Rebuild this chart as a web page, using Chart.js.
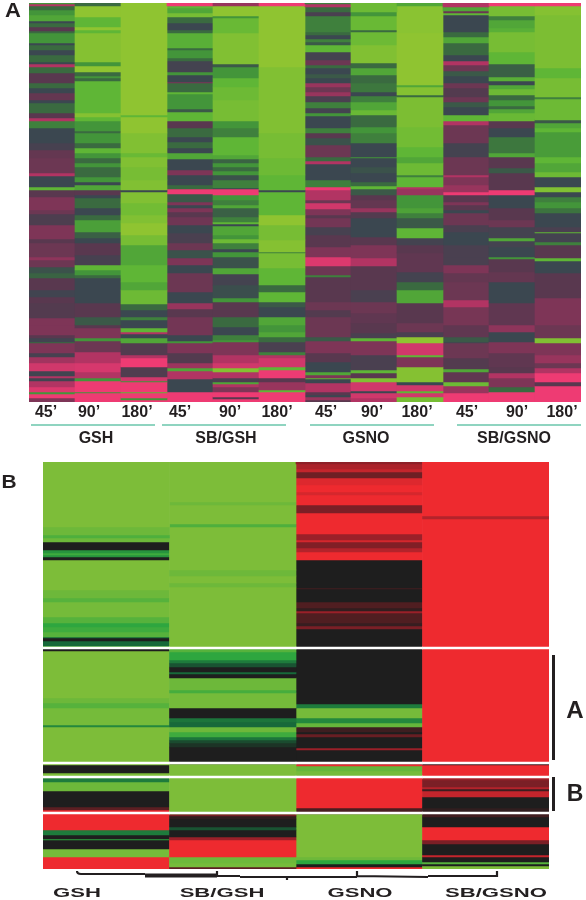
<!DOCTYPE html>
<html>
<head>
<meta charset="utf-8">
<title>GSH / GSNO expression heatmaps</title>
<script src="https://cdn.jsdelivr.net/npm/chart.js@4/dist/chart.umd.min.js"></script>
<style>
  html, body { margin: 0; padding: 0; background: #fff; }
  #page { position: relative; width: 586px; height: 900px; overflow: hidden; font-family: "Liberation Sans", Arial, sans-serif; color: #231f20; }
  canvas { position: absolute; display: block; }
  #panelA { filter: blur(0.6px); }
  #panelB { filter: blur(0.4px); }
  .txt { position: absolute; font-weight: bold; white-space: nowrap; line-height: 1; }
  .rule { position: absolute; }
  svg { position: absolute; left: 0; top: 0; }
</style>
</head>
<body>
<div id="page">
  <canvas id="panelA" width="552" height="399" style="left:29px;top:3px"></canvas>
  <canvas id="panelB" width="506" height="407" style="left:43px;top:462px"></canvas>
  <svg width="586" height="900" fill="none" stroke="#231f20" stroke-width="2.2">
    <path d="M77 871 Q77 874 81 874 L145 874 M145 876 L217 876 M217 871 L217 876 L240 876 M240 877 L357 877 M287 877 L287 880 M357 871 L357 876 L428 877 M428 876 L497 876 L497 871"/>
    <path d="M145 875.5 L217 875.5" stroke-width="4"/>
  </svg>
</div>
<script>
// Panel A: each column lists [last row of band, expression level], level -4 (up, green) to 4 (pink)
const rowsA = 399;
const timeLabels = ['45’', '90’', '180’', '45’', '90’', '180’', '45’', '90’', '180’', '45’', '90’', '180’'];
const groupLabels = ['GSH', 'SB/GSH', 'GSNO', 'SB/GSNO'];

const gsh45 = [[1,-2],[3,3],[7,-1],[12,-2],[18,-2.5],[20,0],[24,-1],[28,1],[30,-1],[40,-2],[42,0],[47,-1],[52,0],[59,-1],[61,0],[64,3],[70,-1],[80,1],[85,-1],[90,0],[97,1.3],[100,0],[110,-1],[115,1],[118,3],[125,-1.5],[140,0],[147,0.4],[155,1.3],[170,1.5],[173,3],[184,0],[187,-3],[194,1],[207,2],[211,1.5],[222,0.6],[236,2],[240,1],[254,1.5],[257,2.3],[264,1.5],[270,-0.3],[275,-0.8],[287,1],[294,0.2],[300,1],[315,0.8],[322,2],[332,2],[335,1],[339,0.2],[340,-1],[350,2],[354,0.4],[360,2.7],[368,3.5],[373,0.2],[375,3],[378,0.2],[384,3],[389,3.7],[391,-2],[395,4],[399,2]];
const gsh90 = [[3,-1],[14,-4],[24,-3],[27,-4],[30,-3],[59,-3.8],[63,-2],[69,-4],[73,-1],[75,-2],[78,-1],[110,-3],[114,-3.8],[118,-3],[128,-2],[130,-1],[140,-2],[145,-1],[150,-3],[155,-2],[160,-1],[164,-2],[174,-1],[179,-2],[182,0],[187,-2.5],[192,1],[195,0],[205,-1],[212,0],[217,-1],[229,-2.3],[235,-0.7],[240,0],[252,1],[262,0.4],[267,-3],[272,-2],[275,-1],[300,0],[314,1],[322,-0.5],[325,1],[335,2],[338,-2],[349,1.5],[360,3],[369,3.6],[375,3],[378,-2],[389,4],[390,-2],[399,4]];
const gsh180 = [[112,-4],[114,-3],[130,-4],[150,-3.7],[154,-3.2],[164,-3.7],[177,-3.5],[187,-3.7],[189,0],[200,-3.7],[212,-3.4],[220,-3.7],[232,-4],[242,-3.5],[262,-2.5],[279,-3],[287,-2.5],[301,-3.3],[307,-1],[314,0],[317,-1.5],[325,0],[329,-3],[331,3],[335,0],[340,-2.5],[352,0.8],[355,3],[364,4],[374,0.7],[378,3.5],[379,-2],[389,4],[390,-3],[395,4],[397,-2],[399,4]];
const sbgsh45 = [[3,4],[5,-3],[10,-2.5],[14,-3.5],[20,-1],[27,0],[30,-1],[45,-2.8],[47,-1],[55,-2],[58,-1],[69,0.3],[72,-2],[79,0],[80,2],[89,-1],[91,-3],[106,-2],[109,-0.5],[118,-3],[125,1],[134,-1],[139,0],[145,-1],[150,0],[156,-2.5],[167,0],[172,2],[182,0],[186,-1],[191,4],[199,-0.5],[202,2],[205,0],[209,2],[214,1],[222,1.6],[230,0],[240,0.5],[247,1.5],[255,-0.3],[262,2],[270,0],[289,1.5],[300,0],[306,2.5],[314,1],[332,1.7],[338,0],[340,-2],[350,2],[360,0.8],[365,2.6],[368,-2.5],[376,3],[389,0],[399,4]];
const sbgsh90 = [[3,2.5],[13,-4],[15,-2],[30,-3.2],[61,-3.7],[64,-0.5],[75,-2],[84,-3],[97,-3.3],[118,-3.5],[125,-2],[134,-1.5],[152,-3],[156,-2.5],[160,-0.8],[164,-2],[168,-1],[172,-2],[177,-0.3],[185,-1.5],[186,0],[192,4],[197,-2],[202,-1.5],[205,-2.5],[214,-0.7],[219,-1.5],[221,-3],[223,0],[232,-2.5],[236,-2],[240,-3.3],[246,-1.5],[249,0],[254,-2],[265,-0.3],[271,-2.5],[282,0.3],[295,-0.2],[299,-2],[314,1],[324,-1],[332,0],[337,-1.5],[339,-2],[352,2],[360,3],[365,3.5],[369,-3.8],[375,3],[379,0.5],[381,-2.5],[384,3],[389,2],[394,4],[396,1],[399,4]];
const sbgsh180 = [[3,4],[64,-4],[130,-3.7],[155,-3.5],[172,-3.3],[187,-3],[189,0],[212,-3],[222,-4],[237,-3.5],[249,-3.8],[250,-1.5],[265,-3.5],[282,-3],[289,-1],[299,-3],[304,-0.5],[314,0],[322,-2.5],[329,-2],[334,-2.5],[339,-1],[349,0.5],[352,-1.5],[355,3],[364,3.5],[367,-3],[375,4],[379,1],[387,2.5],[389,-3],[399,4]];
const gsno45 = [[1,-1.5],[4,3],[9,-1],[13,0.5],[29,-1.5],[32,-1],[36,0],[39,-1.5],[42,-0.5],[49,-3],[57,0.3],[62,1.5],[65,-1],[71,0],[75,-0.5],[80,0],[84,2.5],[89,1.5],[93,2.5],[99,0.5],[105,-1.5],[110,0.3],[113,-2],[125,0],[130,-1.5],[135,1],[142,-0.3],[154,1.5],[158,-1],[161,3],[177,0],[184,-1.5],[187,4],[197,3],[200,1.5],[206,3.5],[212,2],[215,1],[224,1.7],[232,0.4],[244,1],[254,2],[263,3.7],[272,1.5],[274,-1.5],[299,1],[307,1.5],[314,0.8],[334,1.5],[338,-0.5],[350,2],[359,1],[369,0],[372,-2.5],[375,2],[376,-3],[380,0],[389,3],[392,1],[394,0],[397,2.5],[399,1]];
const gsno90 = [[9,-3.3],[13,-2],[27,-3.2],[29,-1],[42,-3.3],[60,-3.7],[65,-1],[72,-2.5],[80,-1],[89,-1.3],[93,0],[99,-1.5],[107,-2.5],[112,-3.2],[124,-1],[130,-2],[140,-1.5],[154,0],[155,-2],[164,0],[170,-0.3],[179,0],[183,-1],[186,-3],[192,-0.5],[197,1],[205,1.3],[209,2.5],[215,0.8],[234,0],[242,1],[255,2],[263,3],[287,1],[299,0.5],[310,1.5],[320,1.2],[330,1],[335,0.5],[338,-3],[352,2],[367,0.5],[370,-3],[375,1],[379,-3.7],[388,3.5],[390,0],[395,3.5],[399,3]];
const gsno180 = [[3,-2.5],[30,-3.9],[82,-4],[84,-2.5],[92,-3.8],[94,-1],[124,-3.6],[144,-3.4],[154,-3],[160,-2.5],[172,-3.3],[174,-1.5],[184,-3],[186,3],[192,2.5],[205,-2],[210,-2.4],[215,-1.5],[225,-0.5],[235,-3],[242,0.3],[250,1],[269,1.2],[279,0.3],[287,-1],[300,-2.5],[320,1],[329,1.5],[334,0.5],[340,-4],[352,3.5],[354,-3],[364,2],[379,-3.8],[382,0],[388,3.5],[390,-3],[394,3.5],[399,-3.5]];
const sbgsno45 = [[4,3],[8,-2.5],[10,1.5],[12,-3],[29,0],[34,-1],[40,-2.5],[52,-1],[58,0],[62,3],[68,1.5],[73,-0.5],[80,0],[85,1.5],[94,0.8],[99,1.5],[104,-0.5],[112,0],[118,-3],[122,3],[140,1.5],[154,0.3],[172,1.5],[174,3],[182,2],[189,2.5],[192,4],[199,1],[202,2],[207,1],[210,0],[222,1.5],[229,0.5],[242,0],[254,0.5],[262,0.5],[270,2],[279,1.3],[297,1.5],[304,3],[322,1.8],[334,1.2],[339,-0.5],[340,0.3],[355,1.5],[366,0.8],[369,-2.5],[379,1.2],[383,-3.3],[390,2.5],[399,4]];
const sbgsno90 = [[3,4],[13,-3.5],[17,-1.5],[25,-2.5],[29,-2.8],[49,-3.5],[61,-3],[74,-0.7],[78,-2.8],[82,0],[86,-2.5],[92,-3.3],[97,-1],[103,-2],[106,-1],[110,-2.5],[118,-3.2],[125,1],[134,0],[150,-1.3],[154,-2.5],[165,1],[170,-0.5],[187,1],[192,4],[205,0],[217,1],[224,1.5],[235,0.3],[238,-2.5],[244,0.3],[254,0],[256,-2],[269,1],[279,1.3],[300,0],[322,1.2],[329,2.3],[339,0],[350,2],[364,1.2],[370,1],[375,3],[384,2],[389,-1],[399,4]];
const sbgsno180 = [[3,4],[12,-3.8],[65,-3.6],[75,-3],[94,-3.5],[96,-1.5],[117,-3.3],[120,-0.5],[125,-2.5],[129,-3],[154,-2.2],[160,-3],[169,-2.5],[174,-3.3],[184,0],[189,-3.7],[194,0],[199,-1.5],[205,-2],[210,-1.2],[224,0],[229,0.5],[230,-3],[239,0.3],[242,-1.5],[255,1],[258,-3],[270,0],[295,1],[322,2],[335,1.5],[340,-3.7],[352,2],[360,2.5],[365,1.5],[370,3],[379,4],[383,1],[399,4]];

// Panel B: same layout, level -3 (green) through 0 (black) to 3 (red)
const rowsB = 407;
const bGsh = [[65,-3],[73,-2.8],[76,-2.4],[80,-2.8],[88,0],[91,-1.7],[93,-2.2],[95,-1.7],[98,0],[128,-3],[136,-2.8],[140,-2.5],[155,-2.9],[161,-2.5],[165,-2],[170,-2.2],[175,-2.5],[176,-1],[179,0],[184,-1],[186,-2.5],[189,0],[236,-3],[241,-2.8],[246,-2.5],[263,-2.9],[265,-1.5],[302,-3],[303,-3],[311,0],[316,-3],[320,-1.3],[329,-2.8],[345,0],[348,1],[368,3],[373,-1.3],[377,0],[378,-2],[387,0],[395,-2.9],[407,3]];
const bSbGsh = [[40,-3],[43,-2.8],[62,-3],[65,-2.4],[108,-3],[114,-2.8],[121,-3],[125,-2.8],[186,-3],[190,-2.5],[198,-2],[201,-1.3],[205,-0.7],[210,0],[212,-1],[216,0],[228,-2.8],[231,-2.3],[246,-2.9],[256,0],[260,-1.2],[265,-1],[270,-2.8],[275,-2.2],[278,-1.2],[281,-0.6],[285,-0.3],[302,0],[352,-3],[354,1.5],[357,0.3],[365,0],[368,-0.7],[375,0],[378,2],[395,3],[401,-2.8],[405,-2.9],[407,1]];
const bGsno = [[2,1.8],[7,2.2],[10,2.5],[16,1.3],[23,2.8],[30,3],[33,2.7],[43,3],[51,1.5],[72,3],[78,2],[80,2.7],[86,1.6],[90,2.3],[98,3],[126,0],[127,0.6],[140,0],[146,0.8],[149,0.3],[151,2],[161,0.8],[164,0.4],[167,1.5],[242,0],[246,-1.3],[256,-2.9],[261,-1.5],[265,-2.7],[270,0.5],[272,0],[275,1.2],[286,0],[288,2],[302,0],[304,3],[309,-2.7],[315,-2.9],[346,3],[352,0.7],[395,-3],[398,-2.8],[402,-2],[405,0],[407,3]];
const bSbGsno = [[54,3],[57,2.3],[301,3],[303,0.5],[316,3],[318,2],[325,1.5],[327,2.3],[329,0.5],[335,2.5],[346,0],[352,0.3],[355,0.6],[365,0],[378,3],[382,1.5],[393,0],[395,2.5],[400,0],[402,-2.5],[404,0],[407,-3]];

// White rules between gene clusters, [first row, last row]
const bSeparators = [[185,187],[300,302],[314,316],[350,352]];

const pinkGreenStops = ['#8fc431', '#5fb636', '#43953a', '#3a6a40', '#3b4750', '#59384f', '#7e3557', '#b23463', '#ee3b73'];
const redGreenStops = ['#7dbd39', '#2ea63f', '#17693a', '#1e1e1e', '#5c1e22', '#9a2029', '#ee2a2f'];

function hexToRgb(hex) {
  return [1, 3, 5].map(i => parseInt(hex.substr(i, 2), 16));
}

// level runs from -(n-1)/2 to +(n-1)/2 over the stops
function levelColor(stops, level) {
  const pos = level + (stops.length - 1) / 2;
  const low = Math.min(Math.floor(pos), stops.length - 2);
  const t = pos - low;
  const a = hexToRgb(stops[low]);
  const b = hexToRgb(stops[low + 1]);
  const rgb = a.map((v, i) => Math.round(v + (b[i] - v) * t));
  return `rgb(${rgb.join(',')})`;
}

// the nth band of every column goes into the nth dataset
function bandDatasets(columns, stops) {
  const layers = Math.max(...columns.map(c => c.length));
  const datasets = [];
  for (let n = 0; n < layers; n++) {
    datasets.push({
      grouped: false,
      barPercentage: 1,
      categoryPercentage: 1,
      borderWidth: 0,
      inflateAmount: 0.33,
      data: columns.map(c => c[n] ? [n === 0 ? 0 : c[n - 1][0], c[n][0]] : null),
      backgroundColor: columns.map(c => c[n] ? levelColor(stops, c[n][1]) : 'transparent')
    });
  }
  return datasets;
}

function heatmap(id, labels, datasets, rows) {
  new Chart(document.getElementById(id), {
    type: 'bar',
    data: { labels, datasets },
    options: {
      responsive: false,
      animation: false,
      events: [],
      layout: { padding: 0 },
      plugins: { legend: { display: false }, tooltip: { enabled: false } },
      scales: {
        x: { display: false, stacked: false },
        y: { display: false, reverse: true, min: 0, max: rows }
      }
    }
  });
}

const columnsA = [gsh45, gsh90, gsh180, sbgsh45, sbgsh90, sbgsh180, gsno45, gsno90, gsno180, sbgsno45, sbgsno90, sbgsno180];
const labelsA = timeLabels.map((t, i) => groupLabels[Math.floor(i / 3)] + ' ' + t);
heatmap('panelA', labelsA, bandDatasets(columnsA, pinkGreenStops), rowsA);

const columnsB = [bGsh, bSbGsh, bGsno, bSbGsno];
const separatorSets = bSeparators.map(s => ({
  grouped: false,
  barPercentage: 1,
  categoryPercentage: 1,
  borderWidth: 0,
  inflateAmount: 0.33,
  data: columnsB.map(() => s),
  backgroundColor: '#ffffff'
}));
// first dataset is painted last, so the rules go in front
heatmap('panelB', groupLabels, separatorSets.concat(bandDatasets(columnsB, redGreenStops)), rowsB);

// Text and annotation
const page = document.getElementById('page');
function addText(str, cx, cy, size, stretch) {
  const el = document.createElement('div');
  el.className = 'txt';
  el.textContent = str;
  el.style.left = cx + 'px';
  el.style.top = cy + 'px';
  el.style.fontSize = size + 'px';
  el.style.transform = `translate(-50%,-50%) scaleX(${stretch || 1})`;
  page.appendChild(el);
}
function addRule(x, y, w, h, color) {
  const el = document.createElement('div');
  el.className = 'rule';
  el.style.cssText = `left:${x}px;top:${y}px;width:${w}px;height:${h}px;background:${color}`;
  page.appendChild(el);
}

addText('A', 13, 10, 20, 1.1);
addText('B', 9, 481, 19, 1.1);

const timeX = [46, 89, 137, 180, 230, 277, 326, 372, 417, 467, 517, 562];
timeLabels.forEach((t, i) => addText(t, timeX[i], 412, 16));

const groupX = [96, 226, 366, 514];
groupLabels.forEach((g, i) => addText(g, groupX[i], 438, 16));
[[31, 124], [162, 124], [310, 124], [457, 124]].forEach(r => addRule(r[0], 424, r[1], 2, '#8fd4c0'));

const groupXB = [77, 222, 360, 496];
groupLabels.forEach((g, i) => addText(g, groupXB[i], 892, 13, 1.7));

addRule(552, 655, 2.5, 105, '#231f20');
addRule(552, 777, 2.5, 34, '#231f20');
addText('A', 575, 710, 23, 1.05);
addText('B', 575, 793, 23, 1.0);
</script>
</body>
</html>
